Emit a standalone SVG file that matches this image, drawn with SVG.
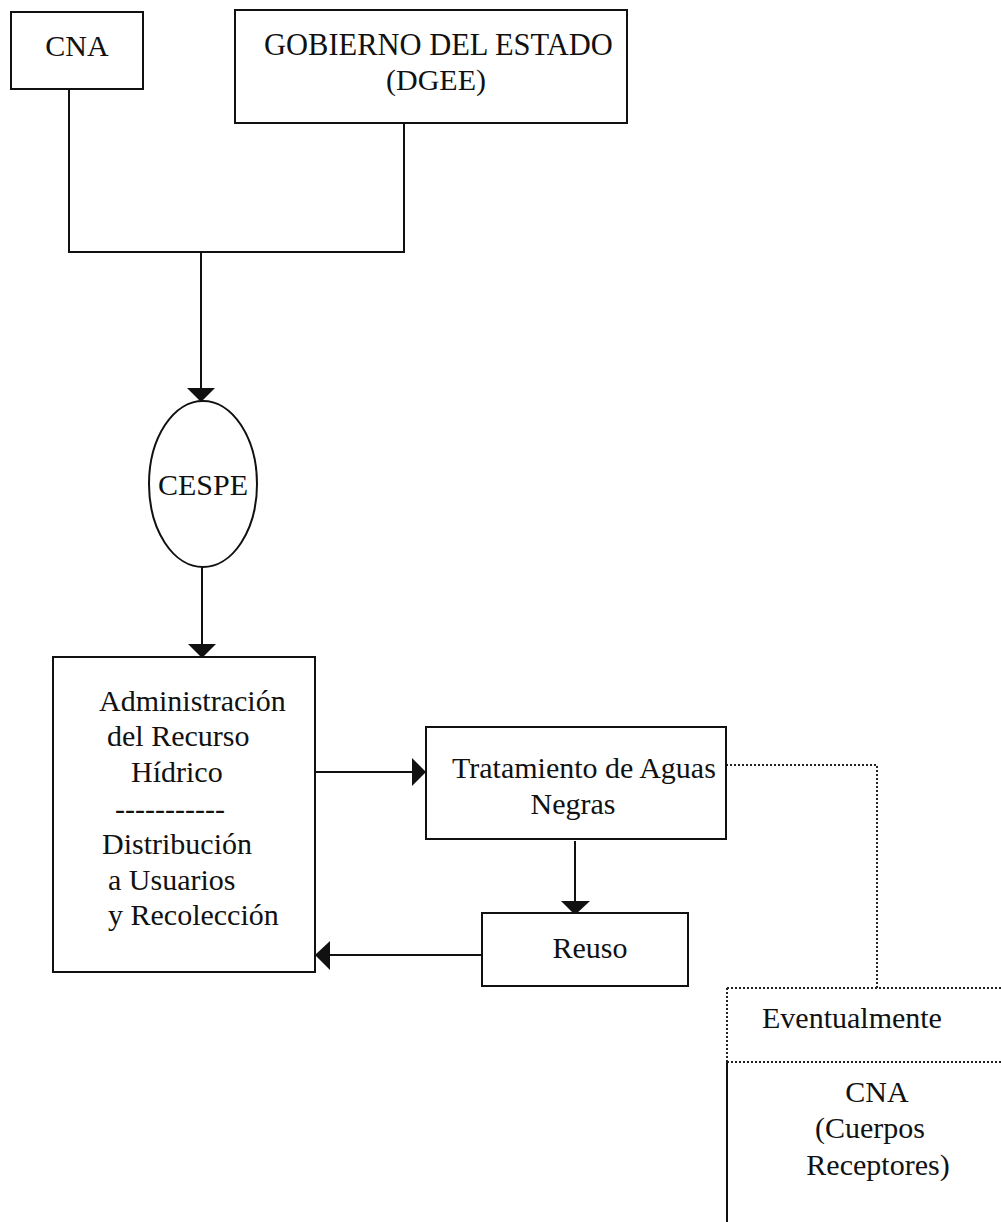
<svg xmlns="http://www.w3.org/2000/svg" width="1001" height="1222" viewBox="0 0 1001 1222">
<style>
.box{fill:#fff;stroke:#111;stroke-width:2}
.ln{fill:none;stroke:#111;stroke-width:2}
.dot{fill:none;stroke:#222;stroke-width:2;stroke-dasharray:2 2}
.t{font-family:"Liberation Serif","Times New Roman",serif;font-size:30px;fill:#111}
.c{text-anchor:middle}
.ah{fill:#111}
</style>
<rect width="1001" height="1222" fill="#fff"/>
<g id="connectors">
<polyline class="ln" points="69,89 69,252 404,252 404,123"/>
<line class="ln" x1="201" y1="252" x2="201" y2="390"/>
<polygon class="ah" points="187,388 215,388 201,402"/>
<line class="ln" x1="202" y1="567" x2="202" y2="646"/>
<polygon class="ah" points="188,644 216,644 202,658"/>
<line class="ln" x1="315" y1="772" x2="414" y2="772"/>
<polygon class="ah" points="412,758 412,786 426,772"/>
<line class="ln" x1="575" y1="841" x2="575" y2="903"/>
<polygon class="ah" points="561,901 590,901 575,915"/>
<line class="ln" x1="482" y1="955" x2="328" y2="955"/>
<polygon class="ah" points="330,941 330,970 315,955"/>
<polyline class="dot" points="726,765 877,765 877,988"/>
</g>
<g id="cna-top">
<rect class="box" x="11" y="12" width="132" height="77"/>
<text class="t c" x="77" y="56">CNA</text>
</g>
<g id="gobierno">
<rect class="box" x="235" y="10" width="392" height="113"/>
<text class="t" x="264" y="55" style="font-size:30.5px">GOBIERNO DEL ESTADO</text>
<text class="t c" x="436" y="90">(DGEE)</text>
</g>
<g id="cespe">
<ellipse class="box" cx="203" cy="484" rx="54" ry="83"/>
<text class="t c" x="203" y="495">CESPE</text>
</g>
<g id="administracion">
<rect class="box" x="53" y="657" width="262" height="315"/>
<text class="t" x="99" y="711">Administración</text>
<text class="t" x="107" y="746">del Recurso</text>
<text class="t" x="131" y="782">Hídrico</text>
<text class="t" x="115" y="819">-----------</text>
<text class="t" x="102" y="854">Distribución</text>
<text class="t" x="108" y="890">a Usuarios</text>
<text class="t" x="108" y="925">y Recolección</text>
</g>
<g id="tratamiento">
<rect class="box" x="426" y="727" width="300" height="112"/>
<text class="t" x="452" y="778">Tratamiento de Aguas</text>
<text class="t c" x="573" y="814">Negras</text>
</g>
<g id="reuso">
<rect class="box" x="482" y="913" width="206" height="73"/>
<text class="t c" x="590" y="958">Reuso</text>
</g>
<g id="cna-receptores">
<line class="dot" x1="727" y1="988" x2="1001" y2="988"/>
<line class="dot" x1="727" y1="1062" x2="1001" y2="1062"/>
<line class="dot" x1="727" y1="988" x2="727" y2="1062"/>
<line class="ln" x1="727" y1="1062" x2="727" y2="1222"/>
<text class="t" x="762" y="1028">Eventualmente</text>
<text class="t c" x="877" y="1102">CNA</text>
<text class="t c" x="870" y="1138">(Cuerpos</text>
<text class="t c" x="878" y="1175">Receptores)</text>
</g>
</svg>
